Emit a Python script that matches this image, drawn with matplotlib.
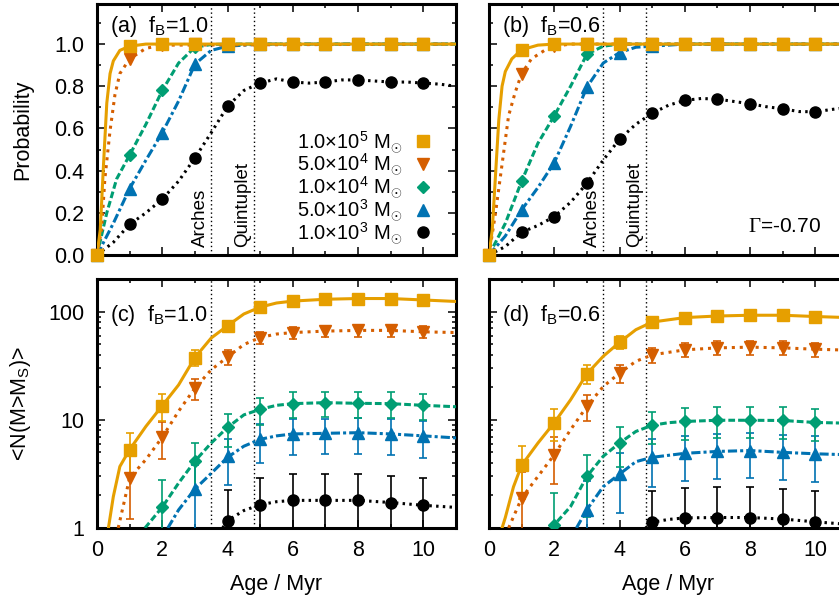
import matplotlib
matplotlib.use("Agg")
import matplotlib.pyplot as plt
from matplotlib.ticker import MultipleLocator, LogLocator, NullFormatter, FixedLocator

plt.rcParams['font.family'] = ['Liberation Sans', 'DejaVu Sans']
plt.rcParams['mathtext.fontset'] = 'custom'
plt.rcParams['mathtext.rm'] = 'Liberation Sans'
plt.rcParams['mathtext.it'] = 'Liberation Sans:italic'
plt.rcParams['mathtext.tt'] = 'Liberation Serif'
plt.rcParams['font.size'] = 15.5

# series order: 1e5, 5e4, 1e4, 5e3, 1e3 Msun
labels = [r'1.0$\times$10$^{5}$ M$_{\odot}$', r'5.0$\times$10$^{4}$ M$_{\odot}$',
          r'1.0$\times$10$^{4}$ M$_{\odot}$', r'5.0$\times$10$^{3}$ M$_{\odot}$',
          r'1.0$\times$10$^{3}$ M$_{\odot}$']
colors = ['#E69F00', '#D55E00', '#009E73', '#0072B2', '#000000']
markers = ['s', 'v', 'D', '^', 'o']
msizes = [8, 8.5, 6.5, 8.5, 8]
lstyles = ['-', (0, (1.0, 1.6)), (0, (2.2, 1.0)), (0, (3.0, 1.0, 1.0, 1.0)), (0, (0.8, 1.4))]

ages = [0, 1, 2, 3, 4, 5, 6, 7, 8, 9, 10]

# ---- (a) probability, fB = 1.0 : markers
prob_a = [
    [0, 0.99, 1, 1, 1, 1, 1, 1, 1, 1, 1],
    [0, 0.93, 0.995, 1, 1, 1, 1, 1, 1, 1, 1],
    [0, 0.474, 0.78, 0.985, 1, 1, 1, 1, 1, 1, 1],
    [0, 0.315, 0.58, 0.905, 0.99, 1, 1, 1, 1, 1, 1],
    [0, 0.145, 0.265, 0.46, 0.705, 0.815, 0.82, 0.82, 0.83, 0.82, 0.815],
]
# (a) curves
curve_a_x = [
    [0, 0.1, 0.2, 0.3, 0.4, 0.5, 0.7, 1, 1.5, 2, 11],
    [0, 0.14, 0.24, 0.4, 0.55, 0.7, 1.0, 1.5, 2, 11],
    [0, 0.3, 0.6, 1, 1.5, 2, 2.5, 3, 3.5, 4, 11],
    [0, 0.5, 1, 1.5, 2, 2.5, 3, 3.5, 4, 5, 11],
    [0, 0.5, 1, 1.5, 2, 2.5, 3, 3.5, 4, 4.5, 5, 5.5, 6, 6.5, 7, 7.5, 8, 8.5, 9, 9.5, 10, 10.5, 11],
]
curve_a_y = [
    [0, 0.12, 0.43, 0.72, 0.86, 0.92, 0.97, 0.99, 1.0, 1.0, 1.0],
    [0, 0.12, 0.36, 0.59, 0.76, 0.86, 0.93, 0.98, 0.995, 1.0],
    [0, 0.2, 0.36, 0.474, 0.62, 0.78, 0.91, 0.985, 0.998, 1.0, 1.0],
    [0, 0.15, 0.315, 0.45, 0.58, 0.73, 0.905, 0.97, 0.99, 1.0, 1.0],
    [0, 0.06, 0.145, 0.2, 0.265, 0.35, 0.46, 0.58, 0.705, 0.78, 0.815, 0.835, 0.82, 0.815,
     0.82, 0.83, 0.83, 0.825, 0.82, 0.82, 0.815, 0.81, 0.80],
]

# ---- (b) probability, fB = 0.6
prob_b = [
    [0, 0.973, 1, 1, 1, 1, 1, 1, 1, 1, 1],
    [0, 0.86, 0.99, 1, 1, 1, 1, 1, 1, 1, 1],
    [0, 0.35, 0.66, 0.952, 1, 1, 1, 1, 1, 1, 1],
    [0, 0.214, 0.438, 0.796, 0.96, 0.99, 1, 1, 1, 1, 1],
    [0, 0.108, 0.182, 0.34, 0.549, 0.672, 0.733, 0.739, 0.717, 0.693, 0.679],
]
curve_b_x = [
    [0, 0.1, 0.2, 0.3, 0.4, 0.5, 0.7, 1, 1.5, 2, 11],
    [0, 0.2, 0.4, 0.6, 0.8, 1, 1.3, 1.7, 2, 2.5, 11],
    [0, 0.5, 1, 1.5, 2, 2.5, 3, 3.5, 4, 11],
    [0, 0.5, 1, 1.5, 2, 2.5, 3, 3.5, 4, 4.5, 5, 6, 11],
    [0, 0.5, 1, 1.5, 2, 2.5, 3, 3.5, 4, 4.5, 5, 5.5, 6, 6.5, 7, 7.5, 8, 8.5, 9, 9.5, 10, 10.5, 11],
]
curve_b_y = [
    [0, 0.12, 0.38, 0.64, 0.80, 0.87, 0.93, 0.973, 0.995, 1, 1],
    [0, 0.2, 0.43, 0.66, 0.77, 0.86, 0.93, 0.97, 0.99, 1, 1],
    [0, 0.15, 0.35, 0.53, 0.66, 0.80, 0.952, 0.99, 1, 1],
    [0, 0.09, 0.214, 0.32, 0.438, 0.61, 0.796, 0.91, 0.96, 0.985, 0.99, 1, 1],
    [0, 0.04, 0.108, 0.14, 0.182, 0.25, 0.34, 0.45, 0.549, 0.62, 0.672, 0.71, 0.733, 0.742,
     0.739, 0.728, 0.717, 0.703, 0.693, 0.68, 0.679, 0.69, 0.70],
]

# ---- (c) <N(M>Ms)>, fB = 1.0 : markers with errors
num_c_x = [[1, 2, 3, 4, 5, 6, 7, 8, 9, 10], [1, 2, 3, 4, 5, 6, 7, 8, 9, 10],
           [2, 3, 4, 5, 6, 7, 8, 9, 10], [3, 4, 5, 6, 7, 8, 9, 10], [4, 5, 6, 7, 8, 9, 10]]
num_c = [
    [5.3, 13.5, 37.6, 74, 110, 125, 130, 132, 132, 128],
    [2.9, 6.9, 19.6, 38, 57.6, 64, 66, 67, 67, 65],
    [1.56, 4.15, 8.5, 12.5, 14.1, 14.4, 14.2, 14.1, 13.6],
    [2.29, 4.6, 6.6, 7.4, 7.5, 7.6, 7.4, 7.1],
    [1.17, 1.64, 1.8, 1.8, 1.8, 1.72, 1.62],
]
err_c = [
    [2.3, 3.7, 6.1, 8.6, 10.5, 11.2, 11.4, 11.5, 11.5, 11.3],
    [1.7, 2.6, 4.4, 6.2, 7.6, 8.0, 8.1, 8.2, 8.2, 8.1],
    [1.2, 2.0, 2.9, 3.5, 3.8, 3.8, 3.8, 3.8, 3.7],
    [1.5, 2.1, 2.6, 2.7, 2.7, 2.8, 2.7, 2.7],
    [1.08, 1.28, 1.34, 1.34, 1.34, 1.31, 1.27],
]
curve_c_x = [
    [0.35, 0.5, 0.7, 1, 1.5, 2, 2.5, 3, 3.5, 4, 4.5, 5, 5.5, 6, 7, 8, 9, 10, 11],
    [0.65, 1, 1.5, 2, 2.5, 3, 3.5, 4, 4.5, 5, 5.5, 6, 7, 8, 9, 10, 11],
    [1.47, 2, 2.5, 3, 3.5, 4, 4.5, 5, 5.5, 6, 7, 8, 9, 10, 11],
    [2.17, 2.5, 3, 3.5, 4, 4.5, 5, 5.5, 6, 7, 8, 9, 10, 11],
    [3.85, 4, 4.5, 5, 5.5, 6, 7, 8, 9, 10, 11],
]
curve_c_y = [
    [1, 1.95, 3.7, 5.3, 8.7, 13.5, 21, 37.6, 57, 74, 95, 110, 120, 125, 130, 132, 132, 128, 124],
    [1, 2.9, 4.3, 6.9, 12, 19.6, 29, 38, 49.6, 57.6, 62, 64, 66, 67, 67, 65, 64],
    [1, 1.56, 2.6, 4.15, 6.1, 8.5, 11.1, 12.5, 13.6, 14.1, 14.4, 14.2, 14.1, 13.6, 13.2],
    [1, 1.47, 2.29, 3.2, 4.5, 5.7, 6.6, 7.1, 7.4, 7.5, 7.6, 7.4, 7.1, 6.8],
    [1, 1.17, 1.45, 1.64, 1.75, 1.8, 1.8, 1.8, 1.72, 1.62, 1.55],
]

# ---- (d) <N(M>Ms)>, fB = 0.6
num_d_x = [[1, 2, 3, 4, 5, 6, 7, 8, 9, 10], [1, 2, 3, 4, 5, 6, 7, 8, 9, 10],
           [2, 3, 4, 5, 6, 7, 8, 9, 10], [3, 4, 5, 6, 7, 8, 9, 10], [5, 6, 7, 8, 9, 10]]
num_d = [
    [3.8, 9.4, 26.6, 52, 80, 88, 91, 92.5, 92.5, 90],
    [1.89, 4.75, 13.3, 27, 39.8, 44.3, 46.2, 46.9, 46.2, 44.9],
    [1.07, 3.0, 6.1, 8.9, 9.65, 9.9, 9.9, 9.85, 9.45],
    [1.48, 3.15, 4.5, 4.9, 5.1, 5.2, 5.0, 4.85],
    [1.13, 1.24, 1.25, 1.25, 1.21, 1.14],
]
err_d = [
    [1.95, 3.05, 5.15, 7.2, 8.9, 9.4, 9.5, 9.6, 9.6, 9.5],
    [1.37, 2.18, 3.65, 5.2, 6.3, 6.65, 6.8, 6.85, 6.8, 6.7],
    [1.03, 1.73, 2.47, 2.98, 3.1, 3.15, 3.15, 3.14, 3.07],
    [1.22, 1.77, 2.12, 2.21, 2.26, 2.28, 2.24, 2.2],
    [1.06, 1.11, 1.12, 1.12, 1.1, 1.07],
]
curve_d_x = [
    [0.4, 0.5, 0.75, 1, 1.5, 2, 2.5, 3, 3.5, 4, 4.5, 5, 6, 7, 8, 9, 10, 11],
    [0.6, 1, 1.5, 2, 2.5, 3, 3.5, 4, 4.5, 5, 6, 7, 8, 9, 10, 11],
    [1.87, 2, 2.5, 3, 3.5, 4, 4.5, 5, 5.5, 6, 7, 8, 9, 10, 11],
    [2.68, 3, 3.5, 4, 4.5, 5, 6, 7, 8, 9, 10, 11],
    [4.8, 5, 5.5, 6, 7, 8, 9, 10, 11],
]
curve_d_y = [
    [1, 1.25, 2.4, 3.8, 6.1, 9.4, 15.3, 26.6, 38.6, 52, 68, 80, 88, 91, 92.5, 92.5, 90, 88],
    [1, 1.89, 3.0, 4.75, 8.1, 13.3, 20.3, 27, 34.7, 39.8, 44.3, 46.2, 46.9, 46.2, 44.9, 44],
    [1, 1.07, 1.58, 3.0, 4.6, 6.1, 7.8, 8.9, 9.4, 9.65, 9.9, 9.9, 9.85, 9.45, 9.3],
    [1, 1.48, 2.41, 3.15, 4.1, 4.5, 4.9, 5.1, 5.2, 5.0, 4.85, 4.75],
    [1, 1.13, 1.2, 1.24, 1.25, 1.25, 1.21, 1.14, 1.08],
]

cluster_ages = [3.5, 4.8]
cluster_names = ['Arches', 'Quintuplet']

W, H = 839, 601
fig = plt.figure(figsize=(W / 100, H / 100), dpi=100)


def px(l, t, w, h):
    return [l / W, 1 - (t + h) / H, w / W, h / H]


ax_a = fig.add_axes(px(97, 4, 359, 251))
ax_b = fig.add_axes(px(489, 4, 359, 251))
ax_c = fig.add_axes(px(97, 279, 359, 249))
ax_d = fig.add_axes(px(489, 279, 359, 249))


def style(ax):
    for s in ax.spines.values():
        s.set_linewidth(2.2)
    ax.tick_params(which='both', direction='in', top=True, right=True, width=1.1)
    ax.tick_params(which='major', length=6, pad=9)
    ax.tick_params(which='minor', length=3)
    ax.set_xlim(0, 11)
    ax.xaxis.set_major_locator(MultipleLocator(2))
    ax.xaxis.set_minor_locator(MultipleLocator(1))
    for xv in cluster_ages:
        ax.axvline(xv, color='black', lw=1.0, ls=(0, (1, 2)), zorder=1)


def prob_panel(ax, cx, cy, marks, tag):
    style(ax)
    handles = []
    for i in reversed(range(5)):
        ax.plot(cx[i], cy[i], color=colors[i], ls=lstyles[i], lw=2.2, zorder=2 + (4 - i))
        h, = ax.plot(ages, marks[i], ls='none', marker=markers[i], ms=msizes[i],
                     color=colors[i], zorder=8 + (4 - i), clip_on=False, label=labels[i])
        handles.insert(0, h)
    ax.set_ylim(0, 1.19)
    ax.yaxis.set_major_locator(FixedLocator([0, 0.2, 0.4, 0.6, 0.8, 1.0]))
    ax.yaxis.set_minor_locator(MultipleLocator(0.1))
    ax.yaxis.set_major_formatter(matplotlib.ticker.FormatStrFormatter('%.1f'))
    ax.set_xticklabels([])
    ax.text(0.036, 0.96, tag, transform=ax.transAxes, ha='left', va='top')
    for xv, name in zip(cluster_ages, cluster_names):
        ax.text(xv - 0.08, 0.03, name, transform=ax.get_xaxis_transform(), rotation=90,
                ha='right', va='bottom', fontsize=13.5)
    return handles


def num_panel(ax, cx, cy, nx, ny, ne, tag):
    style(ax)
    ax.set_yscale('log')
    for i in reversed(range(5)):
        ax.plot(cx[i], cy[i], color=colors[i], ls=lstyles[i], lw=2.2, zorder=2 + (4 - i))
        ax.errorbar(nx[i], ny[i], yerr=ne[i], fmt='none', ecolor=colors[i], elinewidth=1.2,
                    capsize=3, capthick=1.2, zorder=2 + (4 - i))
        ax.plot(nx[i], ny[i], ls='none', marker=markers[i], ms=msizes[i], color=colors[i],
                zorder=8 + (4 - i))
    ax.set_ylim(1, 200)
    ax.yaxis.set_major_locator(LogLocator(base=10, numticks=5))
    ax.yaxis.set_minor_locator(LogLocator(base=10, subs=range(2, 10), numticks=12))
    ax.yaxis.set_minor_formatter(NullFormatter())
    ax.yaxis.set_major_formatter(matplotlib.ticker.FuncFormatter(lambda v, p: '%d' % v))
    ax.set_xlabel('Age / Myr', labelpad=9)
    ax.text(0.036, 0.905, tag, transform=ax.transAxes, ha='left', va='top')


handles = prob_panel(ax_a, curve_a_x, curve_a_y, prob_a, r'(a)  f$_{\mathrm{B}}$=1.0')
prob_panel(ax_b, curve_b_x, curve_b_y, prob_b, r'(b)  f$_{\mathrm{B}}$=0.6')
num_panel(ax_c, curve_c_x, curve_c_y, num_c_x, num_c, err_c, r'(c)  f$_{\mathrm{B}}$=1.0')
num_panel(ax_d, curve_d_x, curve_d_y, num_d_x, num_d, err_d, r'(d)  f$_{\mathrm{B}}$=0.6')

ax_b.set_yticklabels([])
ax_d.set_yticklabels([])

ax_a.set_ylabel('Probability')
ax_c.set_ylabel(r'<N(M>M$_{\mathrm{S}}$)>')
ax_a.yaxis.set_label_coords(-0.178, 0.5)
ax_c.yaxis.set_label_coords(-0.178, 0.5)

ax_b.text(0.925, 0.075, r'$\mathtt{\Gamma}$=-0.70', transform=ax_b.transAxes, ha='right',
          va='bottom', fontsize=15)

ax_a.legend(handles=handles, loc='upper right', bbox_to_anchor=(0.93, 0.5), frameon=False,
            markerfirst=False, handlelength=0.8, handletextpad=0.6, labelspacing=-0.12,
            borderpad=0, borderaxespad=0, fontsize=14.5)

fig.savefig('out.png', dpi=100)
